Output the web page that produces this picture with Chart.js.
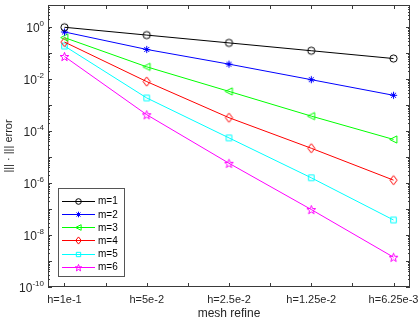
<!DOCTYPE html>
<html>
<head>
<meta charset="utf-8">
<script src="https://cdn.jsdelivr.net/npm/chart.js@4/dist/chart.umd.min.js"></script>
<style>
  html, body { margin: 0; padding: 0; background: #fff; }
  canvas { display: block; }
</style>
</head>
<body>
<canvas id="errChart" width="419" height="320"></canvas>
<script>
// 데이터
const categories = ['h=1e-1', 'h=5e-2', 'h=2.5e-2', 'h=1.25e-2', 'h=6.25e-3'];
const seriesNames = ['m=1', 'm=2', 'm=3', 'm=4', 'm=5', 'm=6'];
const m1 = [1.0, 0.5, 0.25, 0.125, 0.0625];
const m2 = [0.66, 0.14, 0.038, 0.0096, 0.0024];
const m3 = [0.4, 0.030, 0.0034, 3.8e-4, 4.8e-5];
const m4 = [0.27, 8.1e-3, 3.3e-4, 2.2e-5, 1.3e-6];
const m5 = [0.19, 1.9e-3, 5.5e-5, 1.6e-6, 3.8e-8];
const m6 = [0.075, 4.3e-4, 5.8e-6, 9.6e-8, 1.4e-9];
const yTickExponents = [0, -2, -4, -6, -8, -10];

const colors = ['#000000', '#0000ff', '#00ff00', '#ff0000', '#00ffff', '#ff00ff'];
const markerKinds = ['circle', 'asterisk', 'triLeft', 'diamond', 'square', 'pentagram'];
const FONT = '"Liberation Sans", Arial, sans-serif';

// 마커 이미지 생성 (MATLAB 스타일, 속이 빈 마커)
function makeMarker(kind, color, s) {
    const c = document.createElement('canvas');
    c.width = 13; c.height = 13;
    const g = c.getContext('2d');
    const cx = 6.5, cy = 6.5;
    g.strokeStyle = color;
    g.lineWidth = 1;
    g.beginPath();
    if (kind === 'circle') {
        g.arc(cx, cy, 3.6 * s, 0, Math.PI * 2);
    } else if (kind === 'asterisk') {
        const r = 3.6 * s;
        for (let i = 0; i < 4; i++) {
            const a = i * Math.PI / 4;
            g.moveTo(cx - r * Math.cos(a), cy - r * Math.sin(a));
            g.lineTo(cx + r * Math.cos(a), cy + r * Math.sin(a));
        }
    } else if (kind === 'triLeft') {
        g.moveTo(cx - 3.8 * s, cy);
        g.lineTo(cx + 3.4 * s, cy - 3.6 * s);
        g.lineTo(cx + 3.4 * s, cy + 3.6 * s);
        g.closePath();
    } else if (kind === 'diamond') {
        g.moveTo(cx, cy - 4.6 * s);
        g.lineTo(cx + 3.6 * s, cy);
        g.lineTo(cx, cy + 4.6 * s);
        g.lineTo(cx - 3.6 * s, cy);
        g.closePath();
    } else if (kind === 'square') {
        g.rect(cx - 2.8 * s, cy - 2.8 * s, 5.6 * s, 5.6 * s);
    } else if (kind === 'pentagram') {
        const R = 4.6 * s, r = 1.9 * s;
        for (let i = 0; i < 10; i++) {
            const a = -Math.PI / 2 + i * Math.PI / 5;
            const rr = i % 2 === 0 ? R : r;
            const px = cx + rr * Math.cos(a), py = cy + 0.5 + rr * Math.sin(a);
            if (i === 0) g.moveTo(px, py); else g.lineTo(px, py);
        }
        g.closePath();
    }
    g.stroke();
    return c;
}

const markers = markerKinds.map((k, i) => makeMarker(k, colors[i], 1));
const legendMarkers = markerKinds.map((k, i) => makeMarker(k, colors[i], 0.78));
const allSeries = [m1, m2, m3, m4, m5, m6];

const datasets = allSeries.map((vals, i) => ({
    label: seriesNames[i],
    data: vals.map((v, j) => ({ x: j + 1, y: v })),
    borderColor: colors[i],
    borderWidth: 1,
    pointStyle: markers[i],
    pointRadius: 4,
    fill: false,
    tension: 0
}));

// 축 상자, 안쪽 눈금, 라벨, 범례를 그리는 플러그인
const matlabAxes = {
    id: 'matlabAxes',
    afterDraw(chart) {
        const ctx = chart.ctx;
        const a = chart.chartArea;
        const xs = chart.scales.x, ys = chart.scales.y;
        ctx.save();
        ctx.strokeStyle = '#3a3a3a';
        ctx.lineWidth = 1;
        ctx.strokeRect(a.left + 0.5, a.top + 0.5, a.right - a.left - 1, a.bottom - a.top - 1);

        ctx.beginPath();
        for (let v = 1; v <= 5.001; v += 0.5) {
            const px = Math.round(xs.getPixelForValue(v)) + 0.5;
            ctx.moveTo(px, a.bottom); ctx.lineTo(px, a.bottom - 4);
            ctx.moveTo(px, a.top); ctx.lineTo(px, a.top + 4);
        }
        for (let k = -10; k <= 0; k++) {
            for (let j = 1; j <= 9; j++) {
                const val = j * Math.pow(10, k);
                if (val > ys.max || val < ys.min) continue;
                const py = Math.round(ys.getPixelForValue(val)) + 0.5;
                const len = j === 1 ? 4 : 2;
                ctx.moveTo(a.left, py); ctx.lineTo(a.left + len, py);
                ctx.moveTo(a.right, py); ctx.lineTo(a.right - len, py);
            }
        }
        ctx.stroke();

        // y 라벨 (10^e)
        ctx.fillStyle = '#262626';
        ctx.textBaseline = 'alphabetic';
        yTickExponents.forEach(e => {
            const py = ys.getPixelForValue(Math.pow(10, e));
            ctx.font = '12px ' + FONT;
            const base = '10';
            const bw = ctx.measureText(base).width;
            ctx.font = '8px ' + FONT;
            const exp = String(e);
            const ew = ctx.measureText(exp).width;
            const right = a.left - 4;
            ctx.textAlign = 'left';
            ctx.font = '12px ' + FONT;
            ctx.fillText(base, right - ew - bw, py + 5);
            ctx.font = '8px ' + FONT;
            ctx.fillText(exp, right - ew, py - 1.5);
        });

        // 축 제목
        ctx.font = '12px ' + FONT;
        ctx.textAlign = 'center';
        ctx.textBaseline = 'middle';
        ctx.fillText('mesh refine', (a.left + a.right) / 2, 314);
        ctx.save();
        ctx.font = '11px ' + FONT;
        ctx.translate(9, (a.top + a.bottom) / 2);
        ctx.rotate(-Math.PI / 2);
        ctx.fillText('||| \u00b7 ||| error', 0, 0);
        ctx.restore();

        // 범례
        const lx = Math.round(a.left + 10), lw = 66, rowH = 13.2, lh = 88;
        const ly = Math.round(a.bottom - 11 - lh);
        ctx.fillStyle = '#ffffff';
        ctx.fillRect(lx, ly, lw, lh);
        ctx.strokeStyle = '#555';
        ctx.strokeRect(lx + 0.5, ly + 0.5, lw, lh);
        ctx.textAlign = 'left';
        ctx.font = '10px ' + FONT;
        seriesNames.forEach((name, i) => {
            const cy = ly + 12.7 + i * rowH;
            ctx.strokeStyle = colors[i];
            ctx.beginPath();
            ctx.moveTo(lx + 4, Math.round(cy) + 0.5);
            ctx.lineTo(lx + 37, Math.round(cy) + 0.5);
            ctx.stroke();
            ctx.drawImage(legendMarkers[i], lx + 20.5 - 6.5, Math.round(cy) - 6);
            ctx.fillStyle = '#000';
            ctx.fillText(name, lx + 40, cy + 1);
        });
        ctx.restore();
    }
};

new Chart(document.getElementById('errChart').getContext('2d'), {
    type: 'line',
    data: { datasets: datasets },
    options: {
        responsive: false,
        animation: false,
        devicePixelRatio: 1,
        layout: { padding: { left: 0, right: 9, top: 2, bottom: 0 } },
        plugins: { legend: { display: false }, tooltip: { enabled: false } },
        scales: {
            x: {
                type: 'linear',
                min: 0.8,
                max: 5.2,
                afterBuildTicks: s => { s.ticks = categories.map((c, i) => ({ value: i + 1 })); },
                afterFit: s => { s.height = 33; },
                grid: { display: false },
                border: { display: false },
                ticks: {
                    padding: -2,
                    maxRotation: 0,
                    autoSkip: false,
                    color: '#262626',
                    font: { family: FONT, size: 11 },
                    callback: v => categories[Math.round(v) - 1]
                }
            },
            y: {
                type: 'logarithmic',
                min: 1e-10,
                max: 7.2,
                afterFit: s => { s.width = 48; },
                grid: { display: false },
                border: { display: false },
                ticks: { display: false }
            }
        }
    },
    plugins: [matlabAxes]
});
</script>
</body>
</html>
